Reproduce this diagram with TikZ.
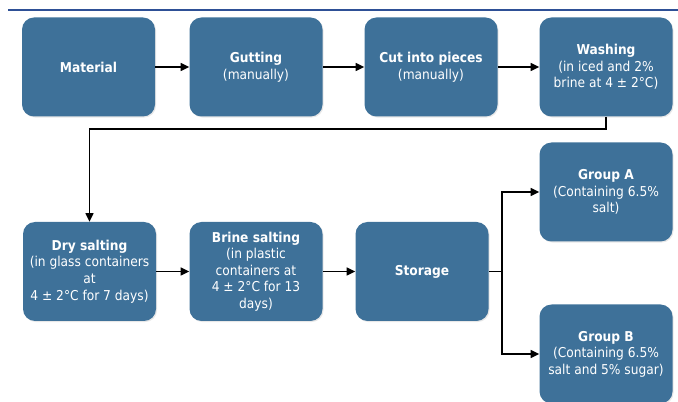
\documentclass[tikz,border=0pt]{standalone}
\usepackage{fontspec}
\setmainfont{DejaVu Sans Condensed}
\usetikzlibrary{arrows.meta,shadows}

\definecolor{boxblue}{RGB}{62,113,153}
\definecolor{rulerblue}{RGB}{46,80,150}

\tikzset{
  stepbox/.style={rectangle,rounded corners=9pt,fill=boxblue,text=white,
    minimum width=99.75pt,minimum height=74.25pt,align=center,
    font=\fontsize{10.2}{12.4}\selectfont,
    drop shadow={opacity=0.18,shadow xshift=0.8pt,shadow yshift=-0.8pt}},
  flow/.style={line width=1.1pt,-{Triangle[length=6.5pt,width=6pt]}}
}

\begin{document}
\begin{tikzpicture}[x=0.75pt,y=-0.75pt]

      \useasboundingbox (0,0) rectangle (678,402);

      \draw[rulerblue,line width=1.2pt] (8,10) -- (678,10);

      % first row
      \node[stepbox] (material) at (88.5,67) {\textbf{Material}};
      \node[stepbox] (gutting) at (256,67) {\textbf{Gutting}\\(manually)};
      \node[stepbox] (cut) at (431,67) {\textbf{Cut into pieces}\\(manually)};
      \node[stepbox] (washing) at (606,67) {\textbf{Washing}\\(in iced and 2\%\\brine at 4 ± 2°C)};

      % second row
      \node[stepbox] (dry) at (89.5,271.5) {\textbf{Dry salting}\\(in glass containers\\at\\4 ± 2°C for 7 days)};
      \node[stepbox] (brine) at (256,271.5) {\textbf{Brine salting}\\(in plastic\\containers at\\4 ± 2°C for 13\\days)};
      \node[stepbox] (storage) at (422,271.5) {\textbf{Storage}};

      % groups
      \node[stepbox] (groupA) at (606,192) {\textbf{Group A}\\(Containing 6.5\%\\salt)};
      \node[stepbox] (groupB) at (606,354) {\textbf{Group B}\\(Containing 6.5\%\\salt and 5\% sugar)};

      \draw[flow] (material) -- (gutting);
      \draw[flow] (gutting) -- (cut);
      \draw[flow] (cut) -- (washing);

      \coordinate (turnR) at (606,129);
      \coordinate (turnL) at (89.5,129);
      \draw[flow] (washing.south) -- (turnR) -- (turnL) -- (dry.north);

      \draw[flow] (dry) -- (brine);
      \draw[flow] (brine) -- (storage);

      \coordinate (split) at (502,271.5);
      \draw[line width=1.1pt] (storage.east) -- (split);
      \draw[flow] (split) |- (groupA.west);
      \draw[flow] (split) |- (groupB.west);
    \end{tikzpicture}
\end{document}
